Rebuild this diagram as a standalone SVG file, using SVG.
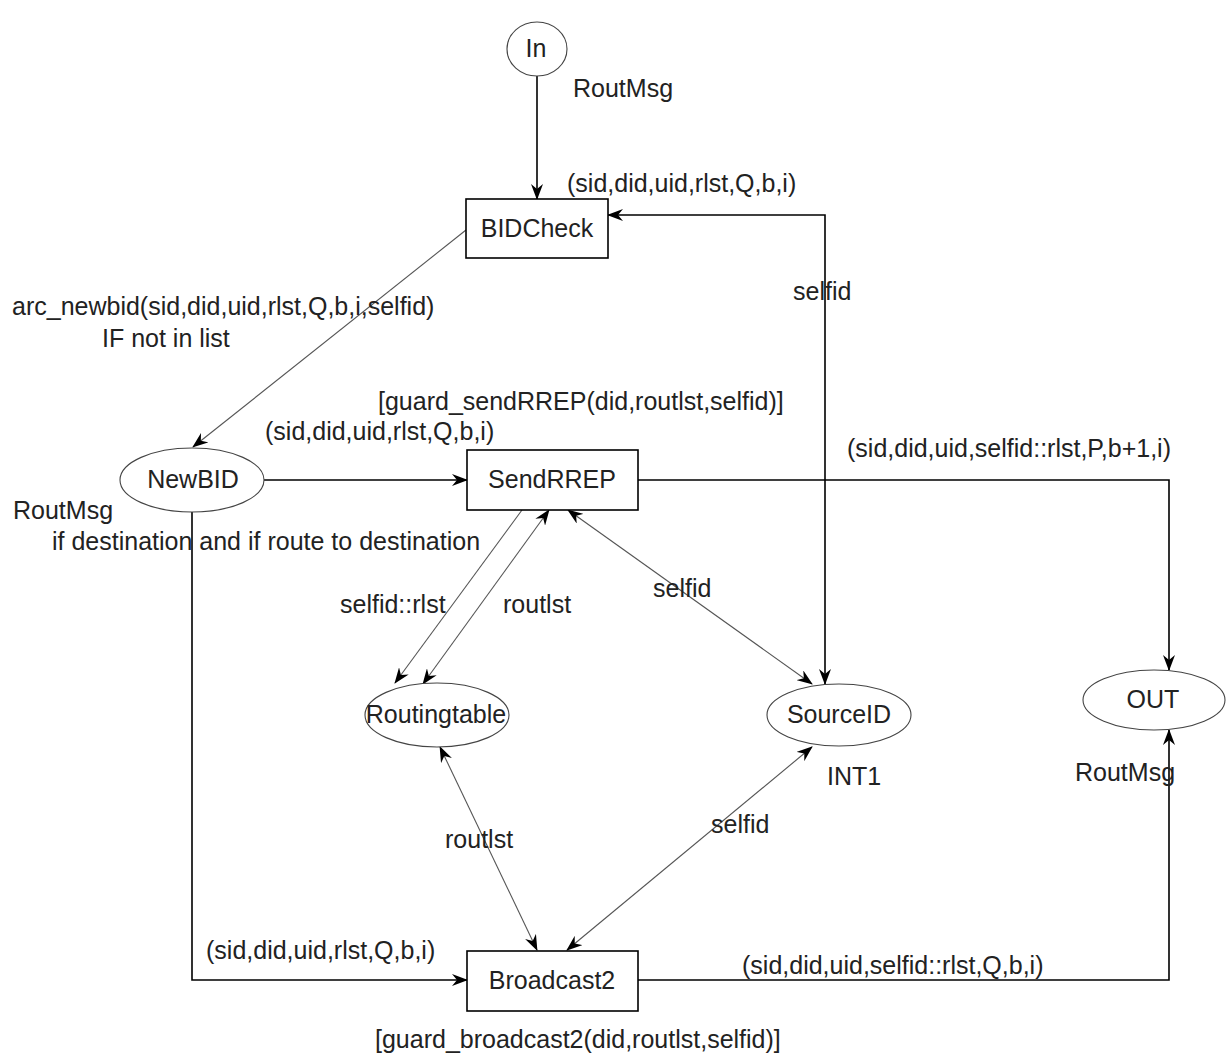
<svg xmlns="http://www.w3.org/2000/svg" width="1227" height="1059" viewBox="0 0 1227 1059">
<defs>
<style>
text{font-family:"Liberation Sans",Arial,sans-serif;font-size:25px;fill:#222}
.c{text-anchor:middle}
.box{fill:#fff;stroke:#000;stroke-width:1.6}
.pl{fill:#fff;stroke:#444;stroke-width:1.1}
.main{fill:none;stroke:#000;stroke-width:1.6}
.thin{fill:none;stroke:#555;stroke-width:1.1}
</style>
<marker id="ah" viewBox="0 0 16 12" refX="15" refY="6" markerWidth="16" markerHeight="12" markerUnits="userSpaceOnUse" orient="auto-start-reverse">
<path d="M0,0 L16,6 L0,12 L5,6 z" fill="#000"/>
</marker>
</defs>
<g id="connectors">
<path class="main" d="M537 76 V199" marker-end="url(#ah)"/>
<path class="main" d="M608 215 H825 V684" marker-start="url(#ah)" marker-end="url(#ah)"/>
<path class="thin" d="M466 230 L193 447" marker-end="url(#ah)"/>
<path class="main" d="M264 480 H467" marker-end="url(#ah)"/>
<path class="main" d="M638 480 H1169 V670" marker-end="url(#ah)"/>
<path class="main" d="M192 512 V980 H467" marker-end="url(#ah)"/>
<path class="main" d="M638 980 H1169 V730" marker-end="url(#ah)"/>
<path class="thin" d="M522 510 L395 683" marker-end="url(#ah)"/>
<path class="thin" d="M549 510 L423 684" marker-start="url(#ah)" marker-end="url(#ah)"/>
<path class="thin" d="M568 510 L812 684" marker-start="url(#ah)" marker-end="url(#ah)"/>
<path class="thin" d="M440 747 L537 950" marker-start="url(#ah)" marker-end="url(#ah)"/>
<path class="thin" d="M812 747 L567 950" marker-start="url(#ah)" marker-end="url(#ah)"/>
</g>
<g id="node-In">
<ellipse class="pl" cx="537" cy="49" rx="30" ry="27"/>
<text class="c" x="536" y="57">In</text>
</g>
<g id="node-BIDCheck">
<rect class="box" x="466" y="199" width="142" height="59"/>
<text class="c" x="537" y="237">BIDCheck</text>
</g>
<g id="node-NewBID">
<ellipse class="pl" cx="192" cy="480" rx="72" ry="32"/>
<text class="c" x="193" y="488">NewBID</text>
</g>
<g id="node-SendRREP">
<rect class="box" x="467" y="450" width="171" height="60"/>
<text class="c" x="552" y="488">SendRREP</text>
</g>
<g id="node-Routingtable">
<ellipse class="pl" cx="437" cy="715" rx="72" ry="32"/>
<text class="c" x="436" y="723">Routingtable</text>
</g>
<g id="node-SourceID">
<ellipse class="pl" cx="839" cy="715" rx="72" ry="31"/>
<text class="c" x="839" y="723">SourceID</text>
</g>
<g id="node-OUT">
<ellipse class="pl" cx="1154" cy="700" rx="71" ry="30"/>
<text class="c" x="1153" y="708">OUT</text>
</g>
<g id="node-Broadcast2">
<rect class="box" x="467" y="951" width="171" height="60"/>
<text class="c" x="552" y="989">Broadcast2</text>
</g>
<g id="labels">
<text x="573" y="97">RoutMsg</text>
<text x="567" y="192">(sid,did,uid,rlst,Q,b,i)</text>
<text x="793" y="300">selfid</text>
<text x="12" y="315">arc_newbid(sid,did,uid,rlst,Q,b,i,selfid)</text>
<text x="102" y="347">IF not in list</text>
<text x="378" y="410">[guard_sendRREP(did,routlst,selfid)]</text>
<text x="265" y="440">(sid,did,uid,rlst,Q,b,i)</text>
<text x="847" y="457">(sid,did,uid,selfid::rlst,P,b+1,i)</text>
<text x="13" y="519">RoutMsg</text>
<text x="52" y="550">if destination and if route to destination</text>
<text x="340" y="613">selfid::rlst</text>
<text x="503" y="613">routlst</text>
<text x="653" y="597">selfid</text>
<text x="827" y="785">INT1</text>
<text x="1075" y="781">RoutMsg</text>
<text x="445" y="848">routlst</text>
<text x="711" y="833">selfid</text>
<text x="206" y="959">(sid,did,uid,rlst,Q,b,i)</text>
<text x="742" y="974">(sid,did,uid,selfid::rlst,Q,b,i)</text>
<text x="375" y="1048">[guard_broadcast2(did,routlst,selfid)]</text>
</g>
</svg>
